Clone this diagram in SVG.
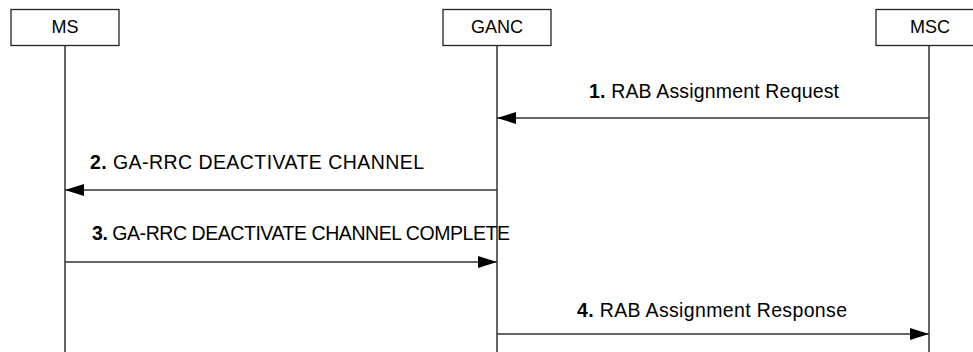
<svg xmlns="http://www.w3.org/2000/svg" width="973" height="352" viewBox="0 0 973 352">
<defs>
<marker id="ah" markerWidth="19" markerHeight="12" refX="19" refY="6" orient="auto" markerUnits="userSpaceOnUse">
<path d="M0,0 L19,6 L0,12 Z" fill="#000"/>
</marker>
<style>
.box{fill:#fff;stroke:#222;stroke-width:1.3}
.life{stroke:#111;stroke-width:1.3}
.msg{stroke:#333;stroke-width:1.5;fill:none}
.b{font-family:"Liberation Sans",Arial,sans-serif;font-size:18px;fill:#000}
.t{font-family:"Liberation Sans",Arial,sans-serif;font-size:19.5px;fill:#000}
.n{font-weight:bold}
</style>
</defs>
<rect width="973" height="352" fill="#fff"/>
<g id="MS">
<line class="life" x1="65" y1="46" x2="65" y2="352"/>
<rect class="box" x="11" y="9.5" width="108" height="36"/>
<text class="b" x="65" y="33" text-anchor="middle">MS</text>
</g>
<g id="GANC">
<line class="life" x1="497" y1="46" x2="497" y2="352"/>
<rect class="box" x="443" y="9.5" width="108" height="36"/>
<text class="b" x="497" y="33" text-anchor="middle">GANC</text>
</g>
<g id="MSC">
<line class="life" x1="929" y1="46" x2="929" y2="352"/>
<rect class="box" x="876" y="9.5" width="108" height="36"/>
<text class="b" x="930" y="33" text-anchor="middle">MSC</text>
</g>
<g id="connectors">
<line class="msg" x1="929" y1="118" x2="497" y2="118" marker-end="url(#ah)"/>
<text class="t" x="589" y="98" textLength="250" lengthAdjust="spacing"><tspan class="n">1.</tspan> RAB Assignment Request</text>
<line class="msg" x1="497" y1="190" x2="65" y2="190" marker-end="url(#ah)"/>
<text class="t" x="90" y="169" textLength="334" lengthAdjust="spacing"><tspan class="n">2.</tspan> GA-RRC DEACTIVATE CHANNEL</text>
<line class="msg" x1="65" y1="262" x2="497" y2="262" marker-end="url(#ah)"/>
<text class="t" x="92" y="240" textLength="418" lengthAdjust="spacing"><tspan class="n">3.</tspan> GA-RRC DEACTIVATE CHANNEL COMPLETE</text>
<line class="msg" x1="497" y1="334" x2="929" y2="334" marker-end="url(#ah)"/>
<text class="t" x="577" y="317" textLength="270" lengthAdjust="spacing"><tspan class="n">4.</tspan> RAB Assignment Response</text>
</g>
</svg>
